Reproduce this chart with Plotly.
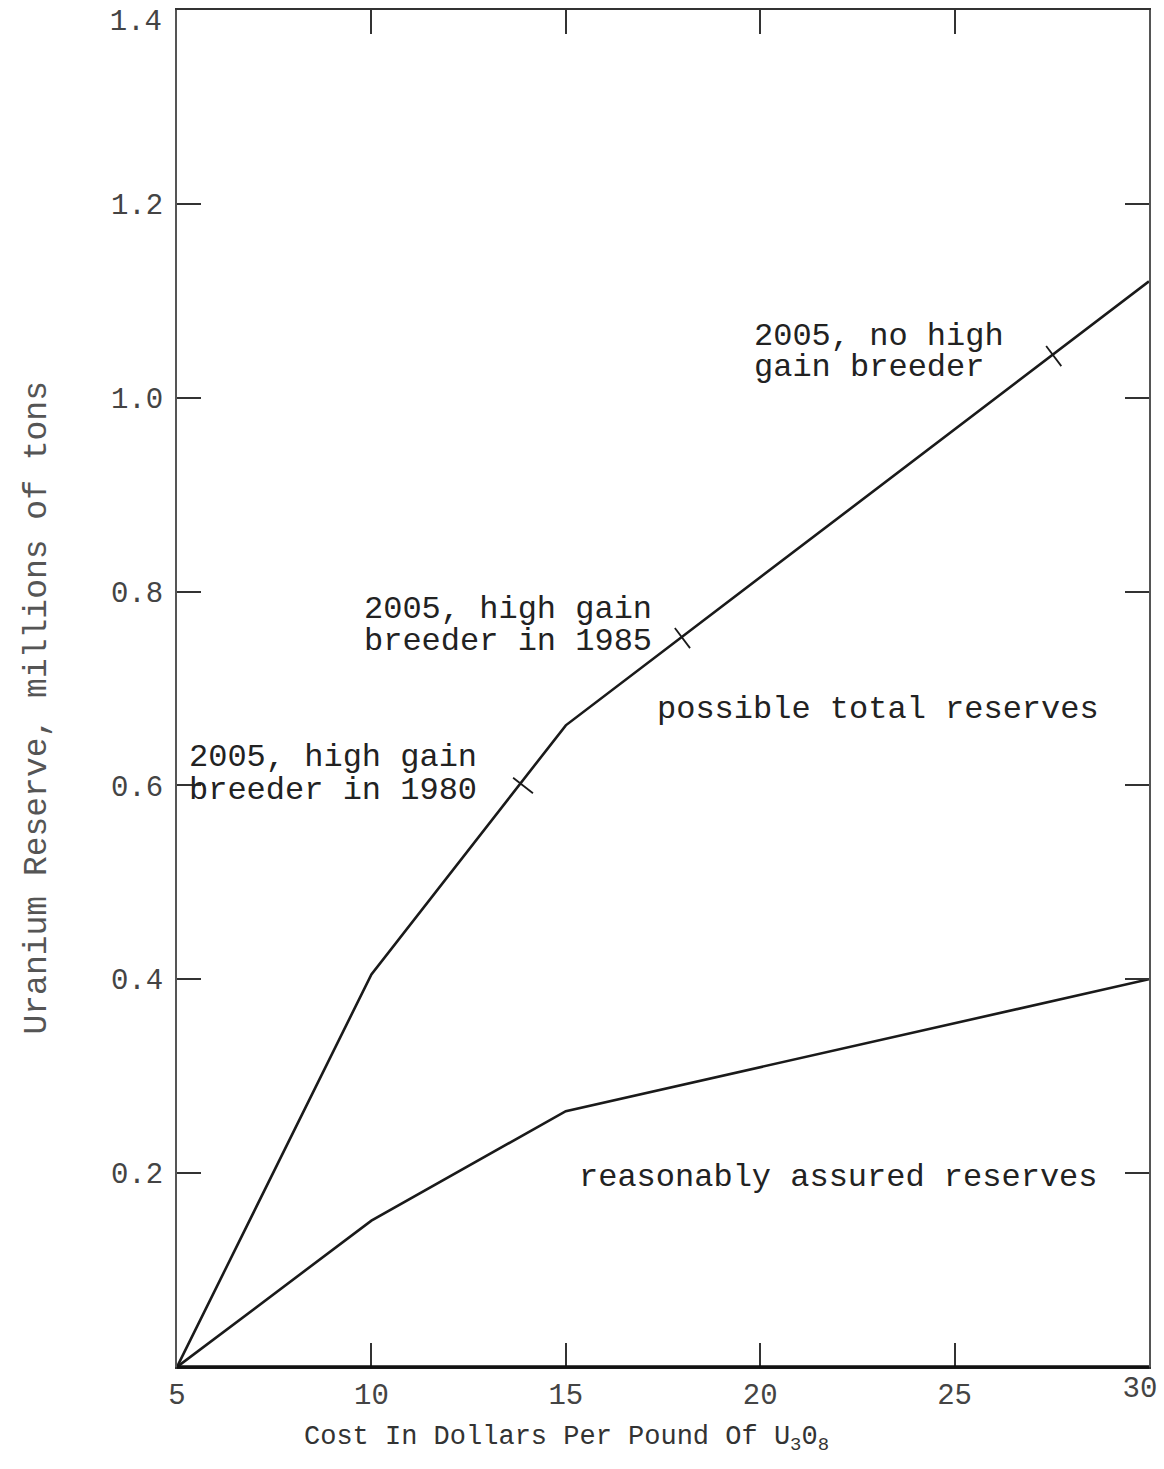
import plotly.graph_objects as go

# Data
cost = [5, 10, 15, 30]
possible_total = [0.0, 0.405, 0.662, 1.12]
assured_cost = [5, 10, 15, 30]
assured = [0.0, 0.151, 0.264, 0.40]

# scenario marks on the possible-total curve
mark_cost = [13.9, 18.0, 27.55]
mark_val = [0.600, 0.752, 1.043]
mark_angle = [-52, -37, -37]

x_ticks = [5, 10, 15, 20, 25]
x_edge_tick = [30]
y_ticks = [0.2, 0.4, 0.6, 0.8, 1.0, 1.2]
y_tick_text = ["0.2", "0.4", "0.6", "0.8", "1.0", "1.2"]
y_edge_tick = [1.4]
y_edge_text = ["1.4"]

labels = [
    ("2005, no high", 19.81, 1.063),
    ("gain breeder", 19.81, 1.031),
    ("2005, high gain", 9.78, 0.781),
    ("breeder in 1985", 9.78, 0.748),
    ("2005, high gain", 5.28, 0.629),
    ("breeder in 1980", 5.28, 0.595),
    ("possible total reserves", 17.32, 0.678),
    ("reasonably assured reserves", 15.31, 0.195),
]

x_title = "Cost In Dollars Per Pound Of U<sub>3</sub>0<sub>8</sub>"
y_title = "Uranium Reserve, millions of tons"

FONT = "Liberation Mono, Courier New, monospace"
INK = "#1a1a1a"
TICKFONT = dict(family=FONT, size=29, color="#444")

fig = go.Figure()
fig.add_trace(go.Scatter(x=cost, y=possible_total, mode="lines",
                         line=dict(color=INK, width=2.6), showlegend=False))
fig.add_trace(go.Scatter(x=assured_cost, y=assured, mode="lines",
                         line=dict(color=INK, width=2.6), showlegend=False))
fig.add_trace(go.Scatter(x=mark_cost, y=mark_val, mode="markers",
                         marker=dict(symbol="line-ns", size=18, angle=mark_angle,
                                     line=dict(color=INK, width=1.8)),
                         showlegend=False))
# empty trace so the overlay axes (edge tick labels) are drawn
fig.add_trace(go.Scatter(x=[None], y=[None], xaxis="x2", yaxis="y2", mode="lines",
                         showlegend=False, hoverinfo="skip"))

for txt, x, y in labels:
    fig.add_annotation(x=x, y=y, text=txt, showarrow=False, xanchor="left",
                       yanchor="middle", borderpad=0,
                       font=dict(family=FONT, size=32, color="#222"))

# axis titles
fig.add_annotation(xref="paper", yref="paper", x=0.401, y=-0.053, text=x_title,
                   showarrow=False, xanchor="center", yanchor="middle",
                   font=dict(family=FONT, size=27, color="#333"))
fig.add_annotation(xref="paper", yref="paper", x=-0.144, y=0.486, text=y_title,
                   showarrow=False, xanchor="center", yanchor="middle", textangle=-90,
                   font=dict(family=FONT, size=33, color="#555"))

fig.update_layout(
    width=1164, height=1469, autosize=False,
    margin=dict(l=177, r=15, t=10, b=102, autoexpand=False),
    paper_bgcolor="white", plot_bgcolor="white",
    font=dict(family=FONT, color="#333"),
    xaxis=dict(
        range=[5, 30], tickvals=x_ticks, ticktext=[str(v) for v in x_ticks],
        ticks="inside", ticklen=24, tickwidth=1.5, tickcolor="#333",
        showline=True, linecolor="#333", linewidth=2, mirror="ticks",
        showgrid=False, zeroline=False, ticklabeloverflow="allow", automargin=False,
        tickfont=TICKFONT,
    ),
    yaxis=dict(
        range=[0, 1.4], tickvals=y_ticks, ticktext=y_tick_text,
        ticks="inside", ticklen=24, tickwidth=1.5, tickcolor="#333",
        showline=True, linecolor="#555", linewidth=2, mirror="ticks",
        showgrid=False, zeroline=False, ticklabeloverflow="allow", automargin=False,
        tickfont=TICKFONT, ticklabelstandoff=6,
    ),
    xaxis2=dict(
        overlaying="x", anchor="y", side="bottom", range=[5, 30],
        tickvals=x_edge_tick, ticktext=[str(v) for v in x_edge_tick],
        ticks="", showline=False, showgrid=False, zeroline=False,
        ticklabeloverflow="allow", automargin=False, ticklabelshift=-9,
        ticklabelstandoff=0, tickfont=TICKFONT,
    ),
    yaxis2=dict(
        overlaying="y", anchor="x", side="left", range=[0, 1.4],
        tickvals=y_edge_tick, ticktext=y_edge_text,
        ticks="", showline=False, showgrid=False, zeroline=False,
        ticklabeloverflow="allow", automargin=False, ticklabelshift=10,
        ticklabelstandoff=14, tickfont=TICKFONT,
    ),
)
# heavier baseline along the bottom of the frame
fig.add_shape(type="line", xref="paper", yref="paper", x0=0, x1=1, y0=0, y1=0,
              line=dict(color="#111", width=3.5))

fig.write_html("out.html", config={"displayModeBar": False},
               post_script="document.body.style.margin='0';")
